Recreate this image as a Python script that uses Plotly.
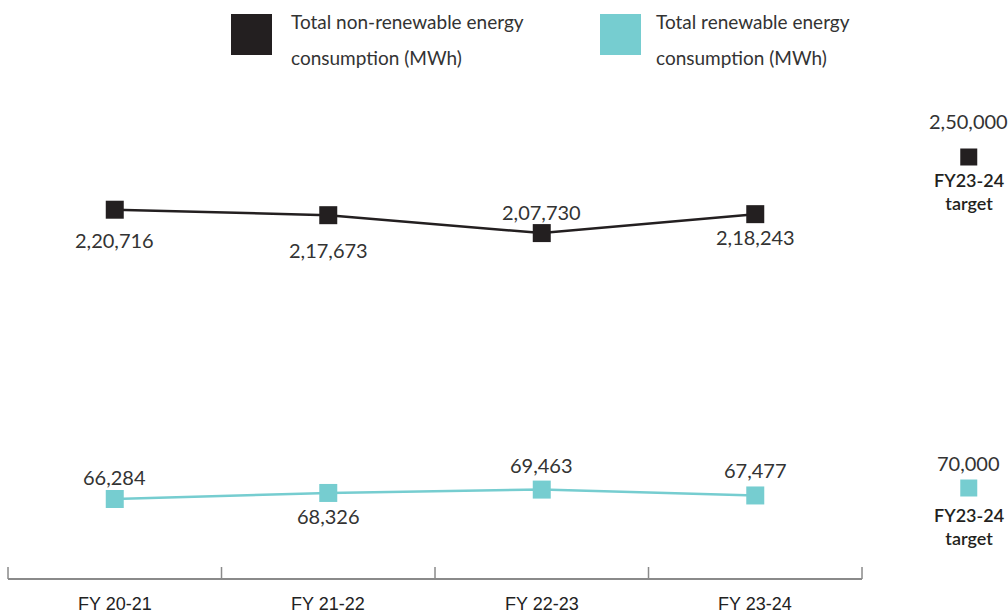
import plotly.graph_objects as go

# ---- data ----
years = ["FY 20-21", "FY 21-22", "FY 22-23", "FY 23-24"]
non_renewable_mwh = [220716, 217673, 207730, 218243]
renewable_mwh = [66284, 68326, 69463, 67477]
target_label = "FY23-24<br>target"
non_renewable_target = 250000
renewable_target = 70000
legend_lines = {
    "non": ["Total non-renewable energy", "consumption (MWh)"],
    "ren": ["Total renewable energy", "consumption (MWh)"],
}

# ---- styling ----
BLACK = "#231f20"
TEAL = "#76cdd0"
TEXT = "#333333"
AXIS = "#8a8a8a"
FONT = "Lato"
W, H = 1008, 613
BOTTOM = 34
PLOT_H = H - BOTTOM

# vertical label offsets in pixels (positive = above the marker)
non_label_dy = [-30, -35, 21, -23]
ren_label_dy = [22, -23, 25, 25]


def indian(n):
    s = str(int(n))
    if len(s) <= 3:
        return s
    last3, rest = s[-3:], s[:-3]
    groups = []
    while len(rest) > 2:
        groups.insert(0, rest[-2:])
        rest = rest[:-2]
    if rest:
        groups.insert(0, rest)
    return ",".join(groups + [last3])


def px(x):
    return x / W


def py(y):
    return 1 - y / PLOT_H


xs = list(range(len(years)))
target_x = len(years)

fig = go.Figure()
fig.add_trace(go.Scatter(
    x=xs, y=non_renewable_mwh, mode="lines+markers", yaxis="y",
    line=dict(color=BLACK, width=2.5),
    marker=dict(symbol="square", size=18, color=BLACK),
    name="Total non-renewable energy consumption (MWh)", hoverinfo="skip",
))
fig.add_trace(go.Scatter(
    x=xs, y=renewable_mwh, mode="lines+markers", yaxis="y2",
    line=dict(color=TEAL, width=2.5),
    marker=dict(symbol="square", size=18, color=TEAL),
    name="Total renewable energy consumption (MWh)", hoverinfo="skip",
))
# targets
fig.add_trace(go.Scatter(
    x=[target_x], y=[non_renewable_target], mode="markers", yaxis="y",
    marker=dict(symbol="square", size=17, color=BLACK), hoverinfo="skip",
))
fig.add_trace(go.Scatter(
    x=[target_x], y=[renewable_target], mode="markers", yaxis="y2",
    marker=dict(symbol="square", size=17, color=TEAL), hoverinfo="skip",
))

annotations = []
num_font = dict(family=FONT, size=20, color=TEXT)
for i, v in enumerate(non_renewable_mwh):
    annotations.append(dict(x=i, y=v, xref="x", yref="y", text=indian(v),
                            showarrow=False, yshift=non_label_dy[i],
                            font=num_font, yanchor="middle"))
for i, v in enumerate(renewable_mwh):
    annotations.append(dict(x=i, y=v, xref="x", yref="y2", text=indian(v),
                            showarrow=False, yshift=ren_label_dy[i],
                            font=num_font, yanchor="middle"))

for v, yr, dv, dt in [(non_renewable_target, "y", 36, -34),
                      (renewable_target, "y2", 25, -38)]:
    annotations.append(dict(x=target_x, y=v, xref="x", yref=yr, text=indian(v),
                            showarrow=False, yshift=dv, font=num_font,
                            yanchor="middle"))
    annotations.append(dict(x=target_x, y=v, xref="x", yref=yr, text=target_label,
                            showarrow=False, yshift=dt,
                            font=dict(family=FONT, size=18, color=BLACK, weight=600),
                            yanchor="middle"))

# category labels under the axis
for i, lab in enumerate(years):
    annotations.append(dict(x=i, y=py(604), xref="x", yref="paper", text=lab,
                            showarrow=False, yanchor="middle",
                            font=dict(family="Liberation Sans", size=18, color="#222222")))

# legend built from squares + two-line labels
leg_font = dict(family=FONT, size=19, color=TEXT)
shapes = []
for key, color, sx, tx in [("non", BLACK, 231, 289), ("ren", TEAL, 600, 654)]:
    shapes.append(dict(type="rect", xref="paper", yref="paper",
                       x0=px(sx), x1=px(sx + 41), y0=py(55), y1=py(14),
                       fillcolor=color, line=dict(width=0)))
    for j, line in enumerate(legend_lines[key]):
        annotations.append(dict(x=px(tx), y=py(21 + 36 * j), xref="paper", yref="paper",
                                text=line, showarrow=False, xanchor="left",
                                yanchor="middle", font=leg_font))

# category axis: baseline with boundary ticks
edges = [i - 0.5 for i in range(len(years) + 1)]
shapes.append(dict(type="line", xref="x", yref="paper", x0=edges[0], x1=edges[-1],
                   y0=0, y1=0, line=dict(color=AXIS, width=2)))
for e in edges:
    shapes.append(dict(type="line", xref="x", yref="paper", x0=e, x1=e,
                       y0=0, y1=py(567), line=dict(color=AXIS, width=1.5)))

fig.update_layout(
    width=W, height=H,
    margin=dict(l=0, r=0, t=0, b=BOTTOM),
    paper_bgcolor="white", plot_bgcolor="white",
    showlegend=False,
    xaxis=dict(range=[-0.5375, 4.1838], visible=False, fixedrange=True),
    yaxis=dict(range=[15556, 337222], visible=False, fixedrange=True),
    yaxis2=dict(range=[39257, 234865], visible=False, overlaying="y", fixedrange=True),
    annotations=annotations,
    shapes=shapes,
)

fig.write_html("out.html", config=dict(displayModeBar=False))
